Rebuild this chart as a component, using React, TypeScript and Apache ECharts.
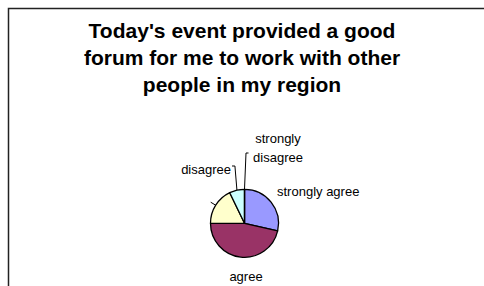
import React, { useEffect, useRef } from "react";
import * as echarts from "echarts";

const titleLines = [
  "Today's event provided a good",
  "forum for me to work with other",
  "people in my region",
];
const categories = ["strongly agree", "agree", "neutral", "disagree", "strongly disagree"];
const values = [8, 13, 5, 2, 0];
const labelTexts = ["strongly agree", "agree", " ", "disagree", "strongly\ndisagree"];
const colors = ["#9999FF", "#993366", "#FFFFCC", "#CCFFFF", "#660066"];

// label placement (layout only)
const labelPos: Array<{ x: number; y: number; align: string; showLine: boolean }> = [
  { x: 277, y: 191, align: "left", showLine: false },
  { x: 246, y: 276, align: "center", showLine: false },
  { x: 208, y: 202, align: "right", showLine: true },
  { x: 231, y: 169, align: "right", showLine: true },
  { x: 278, y: 148, align: "center", showLine: true },
];

export default function App() {
  const ref = useRef<HTMLDivElement>(null);
  useEffect(() => {
    if (!ref.current) return;
    const chart = echarts.init(ref.current, null, { renderer: "svg" });
    const font = "'Liberation Sans', Arial, Helvetica, sans-serif";
    chart.setOption({
      animation: false,
      backgroundColor: "#ffffff",
      title: {
        text: titleLines.join("\n"),
        left: "center",
        top: 12,
        textStyle: {
          fontFamily: font,
          fontSize: 21,
          fontWeight: "bold",
          color: "#000",
          lineHeight: 27,
        },
      },
      graphic: [
        {
          type: "rect",
          shape: { x: 8.5, y: 8.5, width: 600, height: 400 },
          style: { fill: "none", stroke: "#222", lineWidth: 1.5 },
          silent: true,
        },
      ],
      series: [
        {
          type: "pie",
          center: [244.5, 223.3],
          radius: 34,
          startAngle: 90,
          clockwise: true,
          avoidLabelOverlap: false,
          minShowLabelAngle: -1,
          itemStyle: { borderColor: "#000", borderWidth: 1.3 },
          label: {
            show: true,
            position: "outside",
            fontFamily: font,
            fontSize: 13,
            color: "#000",
            lineHeight: 19,
          },
          labelLine: { show: true, length: 5, length2: 3, lineStyle: { color: "#000", width: 1 } },
          labelLayout: (params: any) => {
            const p = labelPos[params.dataIndex];
            const res: any = {
              x: p.x,
              y: p.y,
              align: p.align,
              verticalAlign: "middle",
            };
            const pts = params.labelLinePoints;
            if (p.showLine && pts && pts[0]) {
              const e = pts[0];
              if (params.dataIndex === 3) {
                res.labelLinePoints = [e, [e[0] - 2, 166], [232, 166]];
              } else if (params.dataIndex === 4) {
                res.labelLinePoints = [e, [e[0] + 1.5, 153], [e[0] + 4, 153]];
              } else {
                res.labelLinePoints = [e, [e[0] - 5, e[1] - 3]];
              }
            }
            return res;
          },
          data: categories.map((c, i) => ({
            name: c,
            value: values[i],
            itemStyle: { color: colors[i] },
            label: { formatter: labelTexts[i] },
            labelLine: { show: labelPos[i].showLine },
          })),
        },
      ],
    });
    return () => chart.dispose();
  }, []);
  return (
    <div
      ref={ref}
      style={{ position: "absolute", left: 0, top: 0, width: 484, height: 286 }}
    />
  );
}
